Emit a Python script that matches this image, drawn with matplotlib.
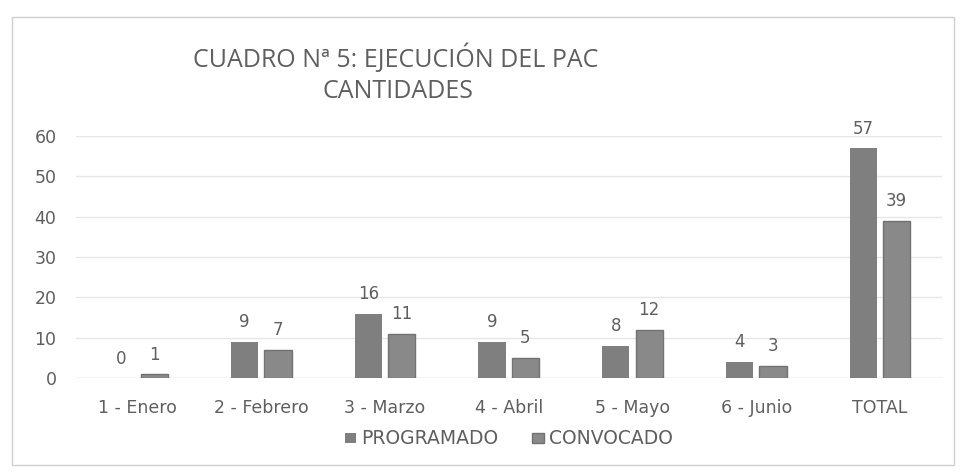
import matplotlib.pyplot as plt
import numpy as np
from matplotlib.patches import Rectangle

plt.rcParams['font.family'] = ['DejaVu Sans']

categories = ['1 - Enero', '2 - Febrero', '3 - Marzo', '4 - Abril', '5 - Mayo', '6 - Junio', 'TOTAL']
programado = [0, 9, 16, 9, 8, 4, 57]
convocado = [1, 7, 11, 5, 12, 3, 39]

text_col = '#5f5f5f'
fig = plt.figure(figsize=(9.6, 4.72), dpi=100)
ax = fig.add_axes([0.079, 0.199, 0.902, 0.513])

# chart border
fig.patches.append(Rectangle((0.012, 0.015), 0.982, 0.95, transform=fig.transFigure,
                             fill=False, edgecolor='#d0d0d0', linewidth=1))

x = np.arange(len(categories))
w = 0.22
b1 = ax.bar(x - 0.135, programado, w, color='#7f7f7f', label='PROGRAMADO')
b2 = ax.bar(x + 0.135, convocado, w, color='#898989', edgecolor='#727272',
            linewidth=1, label='CONVOCADO')

for bars in (b1, b2):
    for bar in bars:
        h = bar.get_height()
        ax.text(bar.get_x() + bar.get_width() / 2, h + 2.6, f'{int(h)}',
                ha='center', va='bottom', fontsize=12, color=text_col, clip_on=False)

ax.set_xlim(-0.5, len(categories) - 0.5)
ax.set_ylim(0, 60)
ax.set_yticks(range(0, 61, 10))
ax.set_xticks(x)
ax.set_xticklabels(categories)
ax.tick_params(axis='both', length=0, labelsize=12.5, labelcolor=text_col)
ax.tick_params(axis='x', pad=15)
ax.tick_params(axis='y', pad=14)
ax.grid(axis='y', color='#e6e6e6', linewidth=1)
ax.set_axisbelow(True)
for s in ax.spines.values():
    s.set_visible(False)
ax.axhline(0, color='#dcdcdc', linewidth=1, zorder=0)

fig.text(0.412, 0.877, 'CUADRO Nª 5: EJECUCIÓN DEL PAC', ha='center', va='center',
         fontsize=18, color=text_col, family='Open Sans')
fig.text(0.415, 0.807, 'CANTIDADES', ha='center', va='center',
         fontsize=18, color=text_col, family='Open Sans')

fig.legend(loc='center', bbox_to_anchor=(0.53, 0.07), ncol=2, frameon=False,
           fontsize=13.5, labelcolor=text_col, handlelength=0.6, handleheight=0.45,
           columnspacing=1.8, handletextpad=0.3)

plt.savefig('out.png', dpi=100)
